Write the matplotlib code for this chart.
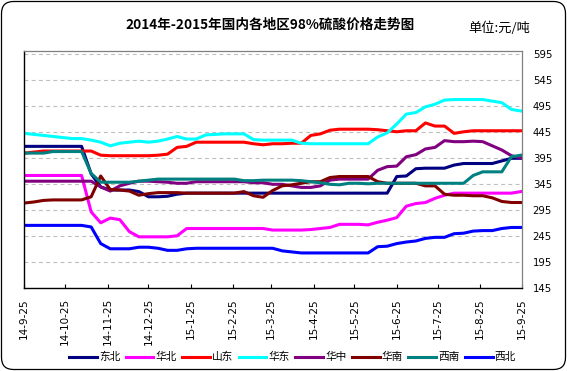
import matplotlib
matplotlib.use('Agg')
import matplotlib.pyplot as plt
from matplotlib.patches import FancyBboxPatch
from matplotlib.transforms import IdentityTransform
from matplotlib.font_manager import FontProperties
import pandas as pd

# ---------------- data ----------------
dates = pd.date_range('2014-09-25', periods=53, freq='7D')

tick_dates = pd.to_datetime(['2014-09-25', '2014-10-25', '2014-11-25', '2014-12-25',
                             '2015-01-25', '2015-02-25', '2015-03-25', '2015-04-25',
                             '2015-05-25', '2015-06-25', '2015-07-25', '2015-08-25',
                             '2015-09-25'])
tick_labels = ['14-9-25', '14-10-25', '14-11-25', '14-12-25', '15-1-25', '15-2-25',
               '15-3-25', '15-4-25', '15-5-25', '15-6-25', '15-7-25', '15-8-25', '15-9-25']

y_ticks = [145, 195, 245, 295, 345, 395, 445, 495, 545, 595]

dongbei = [418, 418, 418, 418, 418, 418, 418, 365, 340, 334, 334, 334, 331, 321, 321, 322,
           326, 328] + [328] * 21 + [360, 361, 375, 376, 376, 376, 382, 385, 385, 385, 385,
                                      390, 395, 395]
huabei = [362] * 7 + [292, 271, 280, 277, 254, 244, 244, 244, 244, 246, 260] + [260] * 7 + \
         [260, 257, 257, 257, 257, 258, 260, 262, 268, 268, 268, 267, 272, 276, 281, 303,
          308, 310, 318, 324, 328, 328, 328, 328, 328, 328, 328, 331]
shandong = [405, 407, 409, 409, 409, 409, 409, 409, 401, 400, 400, 400, 400, 400, 401, 403,
            416, 418, 426, 426, 426, 426, 426, 426, 423, 421, 423, 423, 424, 424, 439, 442,
            449, 451, 451, 451, 451, 450, 448, 446, 448, 448, 463, 457, 457, 443, 446, 448,
            448, 448, 448, 448, 448]
huadong = [443, 441, 439, 437, 435, 433, 433, 430, 426, 419, 424, 426, 428, 426, 428, 432,
           437, 432, 432, 440, 441, 442, 442, 442, 431, 430, 430, 430, 430, 424, 423, 423,
           423, 423, 423, 423, 423, 436, 444, 461, 480, 483, 494, 499, 507, 508, 508, 508,
           508, 505, 502, 489, 486]
huazhong = [351] * 8 + [340, 332, 342, 347, 351, 351, 350, 349, 347, 347] + [350] * 6 + \
           [348, 348, 345, 345, 342, 339, 339, 342, 353, 355, 355, 355, 355, 372, 379, 380,
            398, 402, 413, 416, 429, 427, 427, 428, 427, 419, 411, 400, 396]
huanan = [309, 311, 314, 315, 315, 315, 315, 321, 361, 335, 334, 332, 324, 327, 329, 329,
          329, 328, 328, 328, 328, 328, 328, 331, 323, 320, 333, 342, 344, 347, 350, 350,
          358, 360, 360, 360, 360, 350, 347, 347, 347, 347, 342, 342, 326, 324, 324, 323,
          323, 319, 312, 310, 310]
xinan = [405, 405, 405, 408, 408, 408, 408, 366, 349, 349, 349, 349, 351, 353] + [355] * 9 + \
        [352, 352, 353, 353, 353, 353, 352, 350, 348, 345, 344, 347, 347, 346] + [347] * 10 + \
        [362, 369, 369, 369, 398, 401]
xibei = [266] * 7 + [263, 231, 221, 221, 221, 224, 224, 222, 218, 218, 221] + [222] * 9 + \
        [217, 215] + [213] * 8 + [225, 226, 231, 234, 236, 241, 243, 243, 250, 251, 255,
                                  256, 256, 260, 262, 262]

series_names = ['东北', '华北', '山东', '华东', '华中', '华南', '西南', '西北']
series_values = [dongbei, huabei, shandong, huadong, huazhong, huanan, xinan, xibei]
series_colors = ['#000080', '#FF00FF', '#FF0000', '#00FFFF', '#800080', '#800000',
                 '#008080', '#0000FF']

title_text = '2014年-2015年国内各地区98%硫酸价格走势图'
unit_text = '单位:元/吨'

# ---------------- figure ----------------
plt.rcParams['font.family'] = ['DejaVu Sans', 'Noto Sans CJK SC']
W, H = 567, 371
fig = plt.figure(figsize=(W / 100, H / 100), dpi=100)
fig.patch.set_facecolor('white')

ax = fig.add_axes([24.3 / W, 1 - 288.3 / H, 498 / W, 237 / H])

for name, vals, col in zip(series_names, series_values, series_colors):
    ax.plot(dates, vals, color=col, lw=2.2, label=name, solid_joinstyle='round')

ax.set_xlim(pd.Timestamp('2014-09-25'), pd.Timestamp('2015-09-25'))
ax.set_ylim(145, 600.8)
ax.set_yticks(y_ticks)
ax.yaxis.tick_right()
ax.tick_params(axis='y', length=0, pad=7.5, labelsize=7.3, labelcolor='black')
ax.set_xticks(tick_dates)
ax.set_xticklabels(tick_labels, rotation=90)
ax.tick_params(axis='x', direction='in', length=3, width=0.8, pad=7, labelsize=7.5,
               color='black')

ax.grid(axis='y', color='#BEBEBE', linestyle=(0, (3.5, 3)), lw=0.8)
ax.grid(axis='x', visible=False)
ax.set_axisbelow(True)

for side in ['left', 'bottom']:
    ax.spines[side].set_color('black')
    ax.spines[side].set_linewidth(1.0)
for side in ['top', 'right']:
    ax.spines[side].set_color('#808080')
    ax.spines[side].set_linewidth(0.9)

cjk = 'Noto Sans CJK SC'
fig.text(270 / W, 1 - 25 / H, title_text, ha='center', va='center', fontsize=9.8,
         fontweight='bold', family=[cjk, 'DejaVu Sans'])
fig.text(499 / W, 1 - 28 / H, unit_text, ha='center', va='center', fontsize=9.5,
         family=[cjk, 'DejaVu Sans'])

handles, labels = ax.get_legend_handles_labels()
fig.legend(handles, labels, loc='center', bbox_to_anchor=(292.5 / W, 1 - 357.3 / H),
           ncol=8, frameon=False, prop=FontProperties(family=cjk, size=7.7),
           handlelength=2.6, handletextpad=0.2, columnspacing=0.5, borderpad=0,
           borderaxespad=0)

border = FancyBboxPatch((1.5, 1.5), W - 3, H - 3,
                        boxstyle='round,pad=0,rounding_size=12',
                        transform=IdentityTransform(), facecolor='none',
                        edgecolor='black', lw=0.9)
fig.patches.append(border)

fig.savefig('out.png', dpi=100)
